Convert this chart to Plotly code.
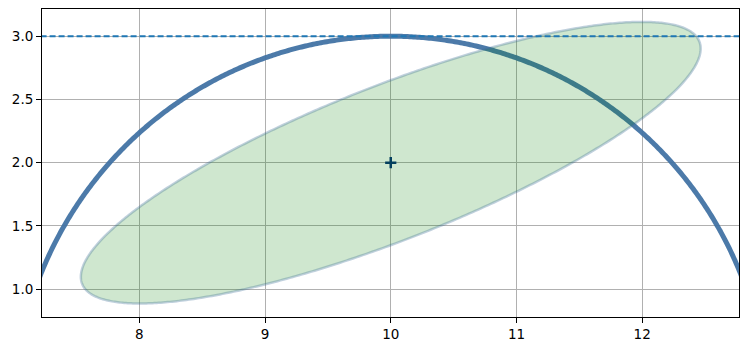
import numpy as np
import plotly.graph_objects as go

# Data
circle_center = [10.0, 0.0]
circle_radius = 3.0
ellipse_center = [10.0, 2.0]
ellipse_width = 5.27
ellipse_height = 1.22
ellipse_angle_deg = 21.3
hline_y = 3.0
x_ticks = [8, 9, 10, 11, 12]
y_ticks = [1.0, 1.5, 2.0, 2.5, 3.0]
y_tick_labels = ["1.0", "1.5", "2.0", "2.5", "3.0"]

# Arc of circle
t = np.linspace(0, np.pi, 600)
cx = circle_center[0] + circle_radius * np.cos(t)
cy = circle_center[1] + circle_radius * np.sin(t)

# Rotated ellipse
s = np.linspace(0, 2 * np.pi, 600)
phi = np.deg2rad(ellipse_angle_deg)
a = ellipse_width / 2
b = ellipse_height / 2
ex = ellipse_center[0] + a * np.cos(s) * np.cos(phi) - b * np.sin(s) * np.sin(phi)
ey = ellipse_center[1] + a * np.cos(s) * np.sin(phi) + b * np.sin(s) * np.cos(phi)

fig = go.Figure()
fig.add_trace(go.Scatter(x=cx, y=cy, mode="lines",
                         line=dict(color="rgba(62,112,162,0.93)", width=5, simplify=False),
                         hoverinfo="skip", showlegend=False))
fig.add_trace(go.Scatter(x=ex, y=ey, mode="lines", fill="toself",
                         fillcolor="rgba(0,128,0,0.19)",
                         line=dict(color="rgba(60,110,150,0.32)", width=2.5, simplify=False),
                         hoverinfo="skip", showlegend=False))
fig.add_trace(go.Scatter(x=[ellipse_center[0]], y=[ellipse_center[1]], mode="markers",
                         marker=dict(symbol="cross-thin", size=8, color="#04405e",
                                     line=dict(color="#04405e", width=2.5)),
                         showlegend=False))
fig.add_trace(go.Scatter(x=[7.0, 13.0], y=[hline_y, hline_y], mode="lines",
                         line=dict(color="#1f77b4", width=2, dash="6px,3px"),
                         showlegend=False))

axis_common = dict(showgrid=True, gridcolor="#b0b0b0", gridwidth=1,
                   showline=True, linecolor="black", linewidth=1, mirror=True,
                   ticks="outside", ticklen=5, tickcolor="black", tickwidth=1,
                   zeroline=False, automargin=False,
                   tickfont=dict(family="DejaVu Sans", size=13.5, color="black"))

fig.update_xaxes(range=[7.226, 12.77], tickvals=x_ticks, **axis_common)
fig.update_yaxes(range=[0.78, 3.215], tickvals=y_ticks, ticktext=y_tick_labels, **axis_common)

fig.update_layout(width=749, height=351,
                  margin=dict(l=42, r=10, t=9, b=34, autoexpand=False),
                  plot_bgcolor="white", paper_bgcolor="white")

fig.write_html("out.html", config={"displayModeBar": False},
               post_script="document.body.style.margin='0px';document.body.style.overflow='hidden';")
